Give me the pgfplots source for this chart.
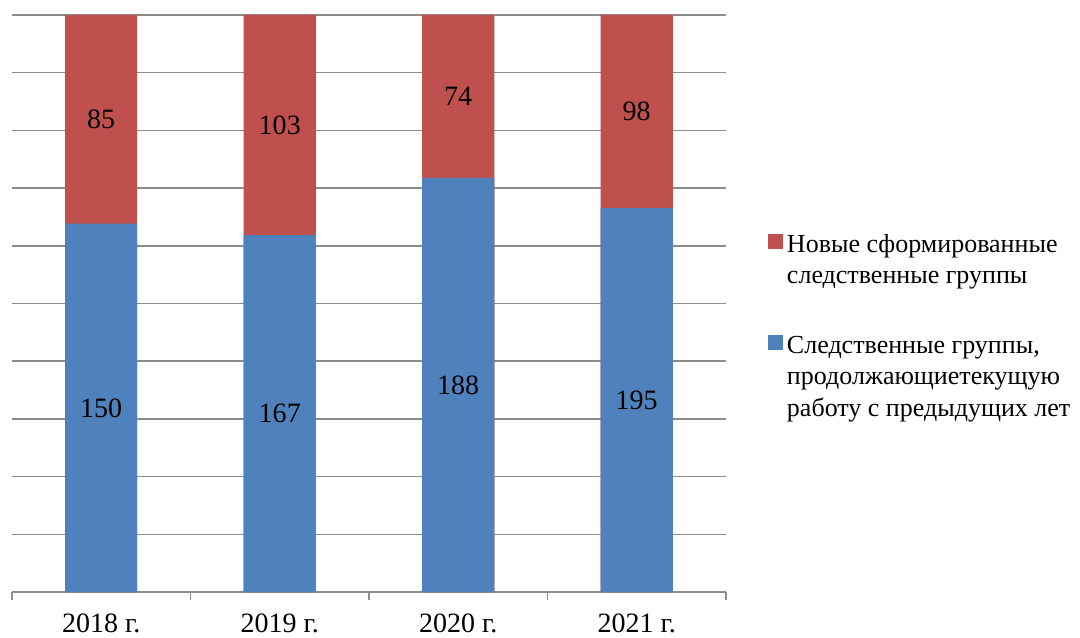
\documentclass[border=0pt]{standalone}
\usepackage{pgfplots}
\pgfplotsset{compat=1.18}
\usepackage{fontspec}
\setmainfont{Liberation Serif}
\definecolor{redC}{HTML}{C0504D}
\definecolor{blueC}{HTML}{4F81BD}
\definecolor{gridC}{HTML}{8C8C8C}
\newcommand{\cf}{\fontsize{14}{14.5}\selectfont}
\newcommand{\lf}{\fontsize{13}{15.75}\selectfont}
\begin{document}
\begin{tikzpicture}
\useasboundingbox (0,0) rectangle (540pt,318.5pt);
\begin{axis}[
 at={(6pt,22.5pt)}, anchor=south west,
 width=357pt, height=288.5pt, scale only axis,
 xmin=-0.5, xmax=3.5, ymin=0, ymax=100,
 axis line style={draw=none},
 tick pos=left,
 ytick={0,10,...,100}, yticklabels={}, major tick length=0pt,
 ymajorgrids, grid style={gridC, line width=0.75pt},
 xtick={0,1,2,3}, xticklabels={2018 г.,2019 г.,2020 г.,2021 г.},
 xticklabel style={font=\cf, text=black, yshift=-7.5pt},
 extra x ticks={-0.5,0.5,1.5,2.5,3.5}, extra x tick labels={},
 extra x tick style={major tick length=4pt, tick align=outside, tick style={gridC, line width=0.75pt}, grid=none},
 clip=false,
 legend style={at={(1.0588,0.634)}, anchor=north west, draw=none, fill=none,
   inner sep=0pt, outer sep=0pt, row sep=34pt, font=\lf,
   cells={anchor=base west},
   /tikz/every odd column/.append style={column sep=0pt}},
]
\addplot[ybar, bar width=36pt, bar shift=0pt, fill=redC, draw=none,
  legend image code/.code={\fill[redC] (0pt,1.5pt) rectangle (7.5pt,9pt);}]
  coordinates {(0,100) (1,100) (2,100) (3,100)};
\addlegendentry{\begin{tabular}[t]{@{}l@{}}Новые сформированные\\следственные группы\end{tabular}}
\addplot[ybar, bar width=36pt, bar shift=0pt, fill=blueC, draw=none,
  legend image code/.code={\fill[blueC] (0pt,1.5pt) rectangle (7.5pt,9pt);}]
  coordinates {(0,63.83) (1,61.85) (2,71.76) (3,66.55)};
\addlegendentry{\begin{tabular}[t]{@{}l@{}}Следственные группы,\\продолжающиетекущую\\работу с предыдущих лет\end{tabular}}
\addplot[draw=none, mark=none, forget plot, nodes near coords, point meta=explicit symbolic,
  every node near coord/.append style={anchor=center, font=\cf, text=black}]
  coordinates {(0,31.91) [150] (1,30.93) [167] (2,35.88) [188] (3,33.28) [195]
               (0,81.91) [85] (1,80.93) [103] (2,85.88) [74] (3,83.28) [98]};
\end{axis}
\end{tikzpicture}
\end{document}
